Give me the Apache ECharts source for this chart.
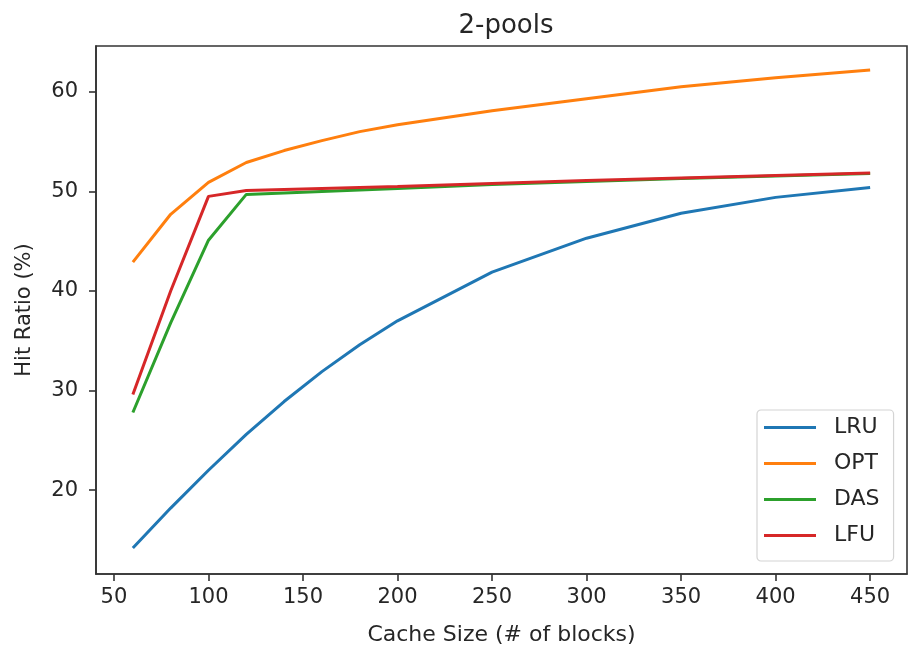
<!DOCTYPE html>
<html>
<head>
<meta charset="utf-8">
<title>2-pools</title>
<script src="https://cdn.jsdelivr.net/npm/echarts@6/dist/echarts.min.js"></script>
<style>
  html, body { margin: 0; padding: 0; background: #ffffff; }
  #chart { width: 909px; height: 651px; }
</style>
</head>
<body>
<div id="chart"></div>
<script>
// Cache sizes (number of blocks) at which each policy was measured
const cacheSizes = [60, 80, 100, 120, 140, 160, 180, 200, 250, 300, 350, 400, 450];

// Hit ratio (%) per policy
const lruHits = [14.2, 18.2, 22.0, 25.6, 28.9, 31.9, 34.6, 37.0, 41.9, 45.3, 47.8, 49.4, 50.4];
const optHits = [42.9, 47.7, 50.9, 52.9, 54.1, 55.1, 56.0, 56.7, 58.1, 59.3, 60.5, 61.4, 62.2];
const dasHits = [27.8, 36.8, 45.1, 49.7, 49.85, 50.0, 50.15, 50.3, 50.7, 51.0, 51.3, 51.55, 51.8];
const lfuHits = [29.6, 40.0, 49.5, 50.1, 50.2, 50.3, 50.4, 50.5, 50.8, 51.1, 51.35, 51.6, 51.85];

const seriesNames = ['LRU', 'OPT', 'DAS', 'LFU'];
const seriesColors = ['#1f77b4', '#ff7f0e', '#2ca02c', '#d62728'];

// Axis tick positions
const xTicks = [50, 100, 150, 200, 250, 300, 350, 400, 450];
const yTicks = [20, 30, 40, 50, 60];

const FONT = '"DejaVu Sans", sans-serif';
const INK = '#262626';

const allSeries = [lruHits, optHits, dasHits, lfuHits];

function pairs(values) {
  return cacheSizes.map((x, i) => [x, values[i]]);
}

const chart = echarts.init(document.getElementById('chart'), null, { renderer: 'canvas' });

chart.setOption({
  animation: false,
  backgroundColor: '#ffffff',
  title: {
    text: '2-pools',
    left: 501,
    top: 8,
    textAlign: 'center',
    textStyle: { fontFamily: FONT, fontSize: 26, fontWeight: 'normal', color: INK }
  },
  grid: {
    left: 96, right: 2, top: 46, bottom: 77,
    show: true,
    borderColor: '#333333',
    borderWidth: 1.6,
    backgroundColor: 'transparent'
  },
  legend: {
    data: seriesNames,
    orient: 'vertical',
    left: 757,
    top: 410,
    icon: 'rect',
    itemWidth: 52,
    itemHeight: 3,
    itemGap: 13,
    padding: [6, 14, 14, 7],
    backgroundColor: '#ffffff',
    borderColor: '#d4d4d4',
    borderWidth: 1.2,
    borderRadius: 4,
    textStyle: {
      fontFamily: FONT, fontSize: 22, color: INK,
      lineHeight: 23,
      padding: [0, 0, 0, 13]
    }
  },
  xAxis: {
    type: 'value',
    min: 40.5,
    max: 469.5,
    name: 'Cache Size (# of blocks)',
    nameLocation: 'middle',
    nameGap: 50,
    nameTextStyle: { fontFamily: FONT, fontSize: 22, color: INK },
    splitLine: { show: false },
    axisLine: { show: true, onZero: false, lineStyle: { color: '#333333', width: 1.6 } },
    axisTick: {
      show: true, inside: false, length: 7,
      customValues: xTicks,
      lineStyle: { color: '#333333', width: 1.6 }
    },
    axisLabel: {
      show: true, margin: 13,
      customValues: xTicks,
      fontFamily: FONT, fontSize: 21, color: INK
    }
  },
  yAxis: {
    type: 'value',
    min: 11.58,
    max: 64.6,
    name: 'Hit Ratio (%)',
    nameLocation: 'middle',
    nameGap: 61,
    nameTextStyle: { fontFamily: FONT, fontSize: 21, color: INK },
    splitLine: { show: false },
    axisLine: { show: true, onZero: false, lineStyle: { color: '#333333', width: 1.6 } },
    axisTick: {
      show: true, inside: false, length: 7,
      customValues: yTicks,
      lineStyle: { color: '#333333', width: 1.6 }
    },
    axisLabel: {
      show: true, margin: 18,
      customValues: yTicks,
      fontFamily: FONT, fontSize: 21, color: INK
    }
  },
  series: seriesNames.map((name, i) => ({
    name: name,
    type: 'line',
    data: pairs(allSeries[i]),
    showSymbol: false,
    symbol: 'none',
    smooth: false,
    clip: false,
    color: seriesColors[i],
    lineStyle: { color: seriesColors[i], width: 3 },
    z: 2 + i
  }))
});
</script>
</body>
</html>
